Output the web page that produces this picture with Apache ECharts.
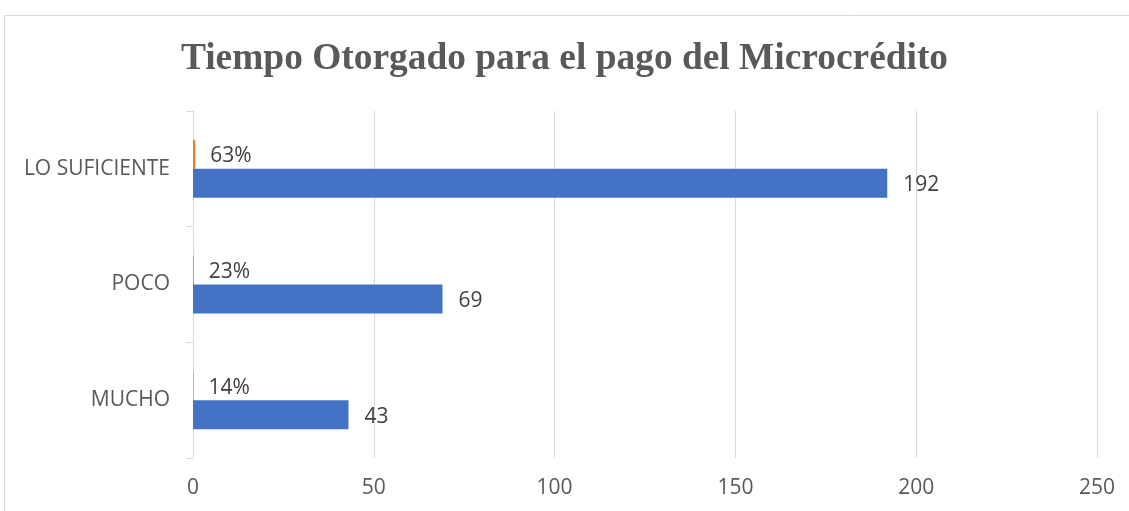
<!DOCTYPE html>
<html><head><meta charset="utf-8">
<script src="https://cdn.jsdelivr.net/npm/echarts@6/dist/echarts.min.js"></script>
<style>html,body{margin:0;padding:0;background:#fff}#c{width:1129px;height:511px}</style>
</head><body><div id="c"></div>
<script>
const titleText = 'Tiempo Otorgado para el pago del Microcrédito';
const categories = ['MUCHO', 'POCO', 'LO SUFICIENTE'];
const counts = [43, 69, 192];
const percents = [0.14, 0.23, 0.63];
const xTicks = { min: 0, max: 250, interval: 50 };

const chart = echarts.init(document.getElementById('c'), null, { renderer: 'canvas' });
const sans = 'Open Sans, Noto Sans, sans-serif';
const labelFont = { fontFamily: sans, fontSize: 21, color: '#404040' };
chart.setOption({
  animation: false,
  graphic: [{
    type: 'rect', shape: { x: 4.5, y: 15.5, width: 1200, height: 600 },
    style: { fill: 'none', stroke: '#d9d9d9', lineWidth: 1 }, z: -1
  }],
  title: {
    text: titleText, left: 'center', top: 36,
    textStyle: { fontFamily: 'Liberation Serif, Times New Roman, serif', fontWeight: 'bold', fontSize: 37.4, color: '#595959' }
  },
  grid: { left: 193, right: 32, top: 111, bottom: 53, containLabel: false },
  xAxis: {
    type: 'value', min: xTicks.min, max: xTicks.max, interval: xTicks.interval,
    axisLine: { show: false }, axisTick: { show: false },
    axisLabel: { margin: 20, fontFamily: sans, fontSize: 21, color: '#595959' },
    splitLine: { lineStyle: { color: '#d9d9d9', width: 1 } }
  },
  yAxis: {
    type: 'category', data: categories,
    axisLine: { show: true, lineStyle: { color: '#d9d9d9' } },
    axisTick: { show: true, length: 7, lineStyle: { color: '#d9d9d9' } },
    axisLabel: { margin: 23, fontFamily: sans, fontSize: 21, color: '#595959' }
  },
  series: [
    {
      name: 'Porcentaje', type: 'bar', data: percents, barWidth: 29, barGap: '0%',
      itemStyle: { color: '#ED7D31' },
      label: { show: true, position: 'right', distance: 15, offset: [0, 2], ...labelFont,
        formatter: p => Math.round(p.value * 100) + '%' }
    },
    {
      name: 'Cantidad', type: 'bar', data: counts, barWidth: 29, barGap: '0%',
      itemStyle: { color: '#4472C4' },
      label: { show: true, position: 'right', distance: 16, offset: [0, 2], ...labelFont }
    }
  ]
});
</script></body></html>
